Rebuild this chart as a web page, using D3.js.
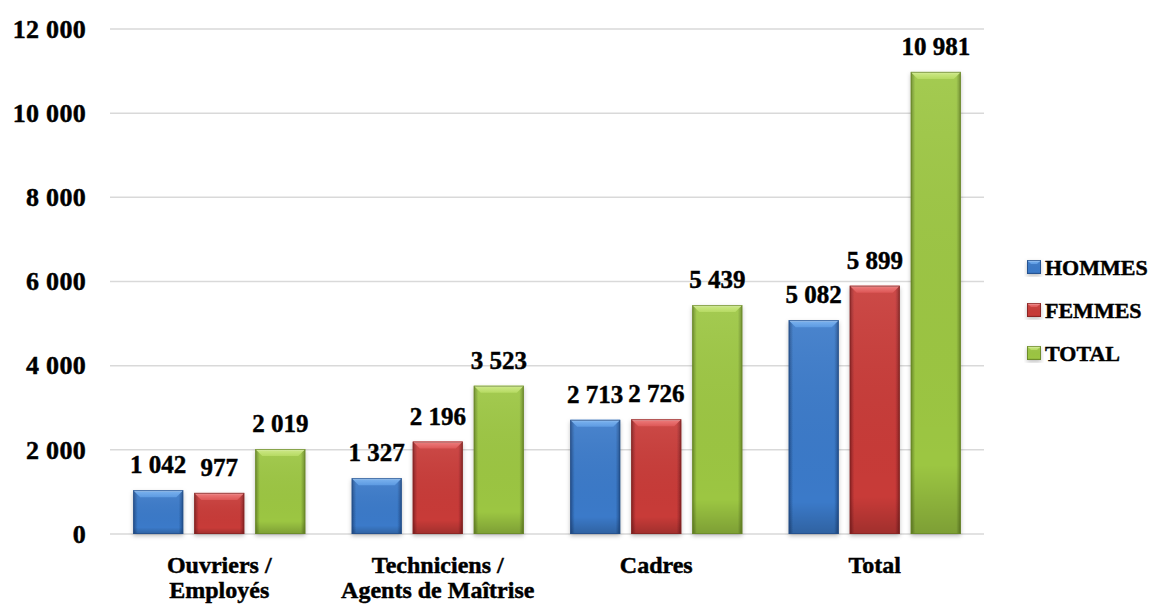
<!DOCTYPE html>
<html lang="fr">
<head>
<meta charset="utf-8">
<script src="https://cdn.jsdelivr.net/npm/d3@7"></script>
<style>
  html, body { margin: 0; padding: 0; background: #ffffff; }
  svg { display: block; }
  text { font-family: "Liberation Serif", "Times New Roman", serif; font-weight: bold; fill: #000; stroke: #000; stroke-width: 0.45px; }
</style>
</head>
<body>
<svg id="chart" width="1149" height="612"></svg>
<script>
// Effectifs par catégorie et par sexe
const categories = [["Ouvriers /", "Employés"], ["Techniciens /", "Agents de Maîtrise"], ["Cadres"], ["Total"]];
const series = ["HOMMES", "FEMMES", "TOTAL"];
const hommes = [1042, 1327, 2713, 5082];
const femmes = [977, 2196, 2726, 5899];
const total = [2019, 3523, 5439, 10981];
const yTicks = [0, 2000, 4000, 6000, 8000, 10000, 12000];

const values = [hommes, femmes, total];
const palette = {
  HOMMES: { main: "#3a7ac9", light: "#7fb5f0", top: "#5d9be2", dark: "#234e8a" },
  FEMMES: { main: "#c83a39", light: "#ee8080", top: "#dd5756", dark: "#862322" },
  TOTAL:  { main: "#9cc643", light: "#d0ea8c", top: "#b6da62", dark: "#688727" }
};

const fmt = v => d3.format(",")(v).replace(/,/g, " ");

const svg = d3.select("#chart");
const plot = { left: 110, right: 984, top: 29, bottom: 534 };

const x = d3.scaleBand()
  .domain(d3.range(categories.length))
  .range([plot.left, plot.right]);

const xs = d3.scaleBand()
  .domain(series)
  .range([0, x.bandwidth()])
  .paddingInner(0.18)
  .paddingOuter(0.38);

const y = d3.scaleLinear().domain([0, 12000]).range([plot.bottom, plot.top]);

// gradients
const defs = svg.append("defs");
series.forEach(s => {
  const c = palette[s];
  const g = defs.append("linearGradient").attr("id", "body-" + s)
    .attr("x1", 0).attr("y1", 0).attr("x2", 1).attr("y2", 0);
  g.append("stop").attr("offset", "0%").attr("stop-color", c.dark);
  g.append("stop").attr("offset", "9%").attr("stop-color", c.main);
  g.append("stop").attr("offset", "91%").attr("stop-color", c.main);
  g.append("stop").attr("offset", "100%").attr("stop-color", c.dark);
  const v = defs.append("linearGradient").attr("id", "shade-" + s)
    .attr("x1", 0).attr("y1", 0).attr("x2", 0).attr("y2", 1);
  v.append("stop").attr("offset", "0%").attr("stop-color", "#fff").attr("stop-opacity", 0.08);
  v.append("stop").attr("offset", "85%").attr("stop-color", "#000").attr("stop-opacity", 0.0);
  v.append("stop").attr("offset", "100%").attr("stop-color", "#000").attr("stop-opacity", 0.2);
  const t = defs.append("linearGradient").attr("id", "top-" + s)
    .attr("x1", 0).attr("y1", 0).attr("x2", 0).attr("y2", 1);
  t.append("stop").attr("offset", "0%").attr("stop-color", c.light);
  t.append("stop").attr("offset", "100%").attr("stop-color", c.top);
});
const shadow = defs.append("filter").attr("id", "shadow")
  .attr("x", "-20%").attr("y", "-20%").attr("width", "140%").attr("height", "140%");
shadow.append("feDropShadow").attr("dx", 0).attr("dy", 2).attr("stdDeviation", 2)
  .attr("flood-color", "#000").attr("flood-opacity", 0.25);

// gridlines
svg.append("g").selectAll("line").data(yTicks).join("line")
  .attr("x1", plot.left).attr("x2", plot.right)
  .attr("y1", d => y(d)).attr("y2", d => y(d))
  .attr("stroke", "#d9d9d9").attr("stroke-width", 1.5);

// y axis labels
const yAxis = d3.axisLeft(y).tickValues(yTicks).tickFormat(fmt).tickSize(0).tickPadding(0);
const ya = svg.append("g").attr("transform", "translate(86,0)").call(yAxis);
ya.select(".domain").remove();
ya.attr("font-family", null).attr("font-size", null);
ya.selectAll("text").attr("font-size", 26).attr("letter-spacing", 0.3).attr("fill", "#000");

// bevelled bar
function drawBar(g, s, x0, y0, w, h, b) {
  const c = palette[s];
  g.append("rect").attr("x", x0).attr("y", y0).attr("width", w).attr("height", h)
    .attr("fill", `url(#body-${s})`).attr("filter", "url(#shadow)");
  g.append("rect").attr("x", x0).attr("y", y0).attr("width", w).attr("height", h)
    .attr("fill", `url(#shade-${s})`);
  g.append("polygon")
    .attr("points", [[x0, y0], [x0 + w, y0], [x0 + w - b, y0 + b], [x0 + b, y0 + b]].map(p => p.join(",")).join(" "))
    .attr("fill", `url(#top-${s})`);
  g.append("line").attr("x1", x0 + 1).attr("x2", x0 + w - 1).attr("y1", y0 + 0.8).attr("y2", y0 + 0.8)
    .attr("stroke", "#fff").attr("stroke-opacity", 0.5).attr("stroke-width", 1);
  g.append("rect").attr("x", x0 + 0.5).attr("y", y0 + 0.5).attr("width", w - 1).attr("height", h - 1)
    .attr("fill", "none").attr("stroke", c.dark).attr("stroke-opacity", 0.75).attr("stroke-width", 1);
}

// bars and value labels
const groups = svg.append("g").selectAll("g").data(categories).join("g")
  .attr("transform", (d, i) => `translate(${x(i)},0)`);

groups.each(function (cat, i) {
  const g = d3.select(this);
  series.forEach((s, k) => {
    const v = values[k][i];
    const bx = xs(s), bw = xs.bandwidth();
    drawBar(g.append("g"), s, bx, y(v), bw, y(0) - y(v), 7);
    g.append("text").attr("x", bx + bw / 2).attr("y", y(v) - 17)
      .attr("text-anchor", "middle").attr("font-size", 25)
      .text(fmt(v));
  });
  cat.forEach((line, j) => {
    g.append("text").attr("text-anchor", "middle").attr("font-size", 24)
      .attr("x", x.bandwidth() / 2).attr("y", 573 + j * 25).text(line);
  });
});

// legend
const legend = svg.append("g").attr("transform", "translate(1027,0)");
series.forEach((s, k) => {
  const cy = 267 + k * 43;
  const g = legend.append("g");
  drawBar(g, s, 0, cy - 7, 14, 14, 4);
  g.append("text").attr("x", 18).attr("y", cy).attr("dy", "0.35em")
    .attr("font-size", 22).text(s);
});
</script>
</body>
</html>
